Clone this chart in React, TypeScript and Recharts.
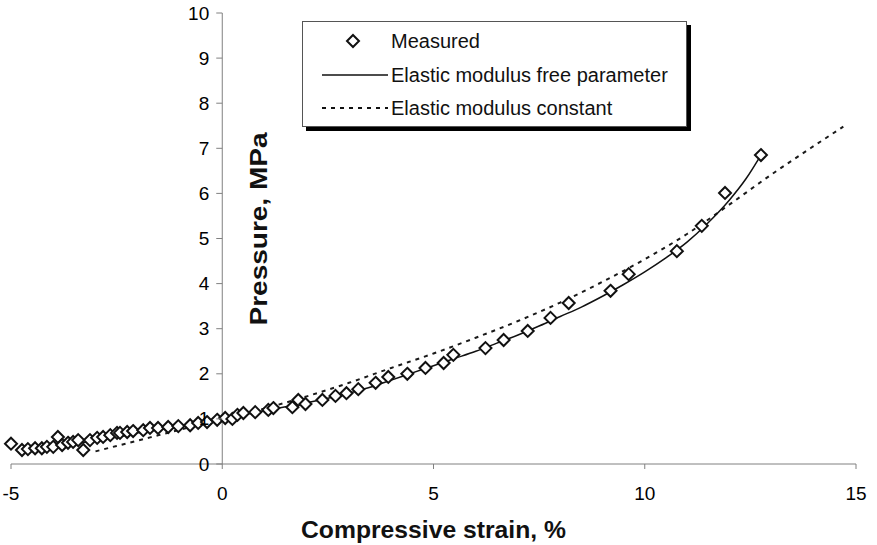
import {
  ComposedChart,
  Customized,
  Legend,
  Line,
  ReferenceLine,
  Scatter,
  XAxis,
  YAxis,
} from "recharts";

// measured points
const measuredStrain = [
  -5.0, -4.74, -4.6, -4.43, -4.27, -4.15, -4.0, -3.89, -3.79, -3.65, -3.53, -3.41, -3.29, -3.13,
  -2.96, -2.82, -2.65, -2.49, -2.42, -2.25, -2.11, -1.87, -1.71, -1.52, -1.28, -1.04, -0.76, -0.57,
  -0.36, -0.12, 0.07, 0.24, 0.36, 0.5, 0.78, 1.09, 1.21, 1.66, 1.8, 1.97, 2.37, 2.68, 2.94, 3.22,
  3.63, 3.93, 4.38, 4.81, 5.24, 5.47, 6.23, 6.66, 7.23, 7.77, 8.2, 9.19, 9.62, 10.76, 11.35, 11.9,
  12.75,
];
const measuredPressure = [
  0.45, 0.31, 0.33, 0.35, 0.35, 0.38, 0.38, 0.6, 0.42, 0.47, 0.49, 0.53, 0.31, 0.53,
  0.58, 0.6, 0.64, 0.69, 0.69, 0.71, 0.73, 0.75, 0.8, 0.8, 0.82, 0.84, 0.86, 0.91,
  0.93, 0.98, 1.02, 1.0, 1.09, 1.13, 1.15, 1.2, 1.24, 1.26, 1.42, 1.33, 1.42, 1.51, 1.57, 1.66,
  1.8, 1.93, 2.0, 2.13, 2.24, 2.42, 2.57, 2.75, 2.95, 3.24, 3.57, 3.84, 4.21, 4.72, 5.28, 6.01,
  6.85,
];

// fit with the elastic modulus as a free parameter
const freeStrain = [
  -4.5, -4, -3.5, -3, -2.5, -2, -1.5, -1, -0.5, 0, 0.5, 1, 1.5, 2, 2.5, 3, 3.5, 4, 4.5, 5, 5.5, 6,
  6.5, 7, 7.5, 8, 8.5, 9, 9.5, 10, 10.5, 11, 11.5, 12, 12.4, 12.75,
];
const freePressure = [
  0.32, 0.37, 0.44, 0.52, 0.6, 0.69, 0.77, 0.85, 0.92, 1.0, 1.09, 1.18, 1.27, 1.36, 1.46, 1.57, 1.7,
  1.86, 2.02, 2.18, 2.34, 2.5, 2.68, 2.86, 3.06, 3.27, 3.48, 3.72, 3.98, 4.26, 4.57, 4.92, 5.35,
  5.85, 6.33, 6.85,
];

// fit with a constant elastic modulus
const constStrain = [-3, -2.5, -2, -1.5, -1, -0.5, 0, 1, 2, 3, 4, 5, 6, 7, 8, 9, 10, 11, 12, 13, 14, 14.7];
const constPressure = [
  0.28, 0.4, 0.52, 0.64, 0.76, 0.88, 1.0, 1.23, 1.5, 1.8, 2.13, 2.45, 2.8, 3.17, 3.58, 4.04, 4.54,
  5.1, 5.75, 6.42, 7.05, 7.48,
];

const xTicks = [-5, 0, 5, 10, 15];
const yTicks = [0, 1, 2, 3, 4, 5, 6, 7, 8, 9, 10];

const toRows = (xs: number[], ys: number[]) => xs.map((strain, i) => ({ strain, pressure: ys[i] }));
const measured = toRows(measuredStrain, measuredPressure);
const freeFit = toRows(freeStrain, freePressure);
const constFit = toRows(constStrain, constPressure);

const W = 877;
const H = 545;
const Y_AXIS_W = 1;
const margin = { top: 13, right: 21, left: 11 - Y_AXIS_W, bottom: 0 };
const X_AXIS_H = 81;
const xDomain: [number, number] = [-5, 15];
const plotLeft = margin.left + Y_AXIS_W;
const plotW = W - plotLeft - margin.right;
// the pressure axis crosses at zero strain
const yAxisX = plotLeft + (plotW * (0 - xDomain[0])) / (xDomain[1] - xDomain[0]);

const FONT = "'Liberation Sans', Arial, Helvetica, sans-serif";
const AXIS = "#808080";

function renderPressureTick(props: any) {
  const { y, payload } = props;
  return (
    <g key={`ytick-${payload.value}`}>
      <line x1={yAxisX - 6} x2={yAxisX} y1={y} y2={y} stroke={AXIS} />
      <text x={yAxisX - 13} y={y} textAnchor="end" dominantBaseline="central" fontSize={19} fill="#000">
        {payload.value}
      </text>
    </g>
  );
}

function Diamond({ cx, cy }: any) {
  const r = 6;
  return (
    <path
      d={`M${cx},${cy - r}L${cx + r},${cy}L${cx},${cy + r}L${cx - r},${cy}Z`}
      fill="#fff"
      stroke="#111"
      strokeWidth={2}
    />
  );
}

function AxisTitles() {
  return (
    <g fontFamily={FONT} fontWeight={700} fill="#111">
      <text x={plotLeft + plotW / 2} y={538} textAnchor="middle" fontSize={24} textLength={265} lengthAdjust="spacingAndGlyphs">
        Compressive strain, %
      </text>
      <text
        transform="translate(267, 229) rotate(-90)"
        textAnchor="middle"
        fontSize={24}
        textLength={193}
        lengthAdjust="spacingAndGlyphs"
      >
        Pressure, MPa
      </text>
    </g>
  );
}

function LegendBox() {
  const row = (y: number, icon: React.ReactNode, label: string) => (
    <div style={{ position: "absolute", left: 0, top: y - 12, height: 24, display: "flex", alignItems: "center" }}>
      <svg width={88} height={24} style={{ display: "block" }}>
        {icon}
      </svg>
      <span style={{ fontSize: 20, color: "#111", whiteSpace: "nowrap" }}>{label}</span>
    </div>
  );
  return (
    <div
      style={{
        position: "relative",
        width: 383,
        height: 104,
        border: "1px solid #555",
        background: "#fff",
        boxShadow: "4px 4px 0 #000",
        fontFamily: FONT,
      }}
    >
      {row(19, <Diamond cx={50} cy={12} />, "Measured")}
      {row(53, <line x1={19} x2={85} y1={12} y2={12} stroke="#111" strokeWidth={1.5} />, "Elastic modulus free parameter")}
      {row(
        86,
        <line x1={19} x2={85} y1={12} y2={12} stroke="#111" strokeWidth={2} strokeDasharray="4 5" />,
        "Elastic modulus constant",
      )}
    </div>
  );
}

export default function App() {
  return (
    <div style={{ width: W, height: H, background: "#fff", fontFamily: FONT }}>
      <style>{"body{margin:0}"}</style>
      <ComposedChart width={W} height={H} margin={margin}>
        <XAxis
          type="number"
          dataKey="strain"
          domain={xDomain}
          ticks={xTicks}
          interval={0}
          height={X_AXIS_H}
          stroke={AXIS}
          tickSize={5}
          tickMargin={18}
          tick={{ fill: "#000", fontSize: 19 }}
        />
        <YAxis
          type="number"
          dataKey="pressure"
          domain={[0, 10]}
          ticks={yTicks}
          interval={0}
          width={Y_AXIS_W}
          axisLine={false}
          tickLine={false}
          tick={renderPressureTick}
        />
        <ReferenceLine x={0} stroke={AXIS} />
        <Line
          data={constFit}
          dataKey="pressure"
          type="monotone"
          stroke="#1a1a1a"
          strokeWidth={2}
          strokeDasharray="4 5"
          dot={false}
          isAnimationActive={false}
        />
        <Line
          data={freeFit}
          dataKey="pressure"
          type="monotone"
          stroke="#111"
          strokeWidth={1.5}
          dot={false}
          isAnimationActive={false}
        />
        <Scatter data={measured} dataKey="pressure" shape={<Diamond />} isAnimationActive={false} />
        <Customized component={<AxisTitles />} />
        <Legend
          layout="horizontal"
          verticalAlign="middle"
          align="center"
          content={() => <LegendBox />}
          wrapperStyle={{ left: 302, top: 21, width: 390, height: 110 }}
        />
      </ComposedChart>
    </div>
  );
}
